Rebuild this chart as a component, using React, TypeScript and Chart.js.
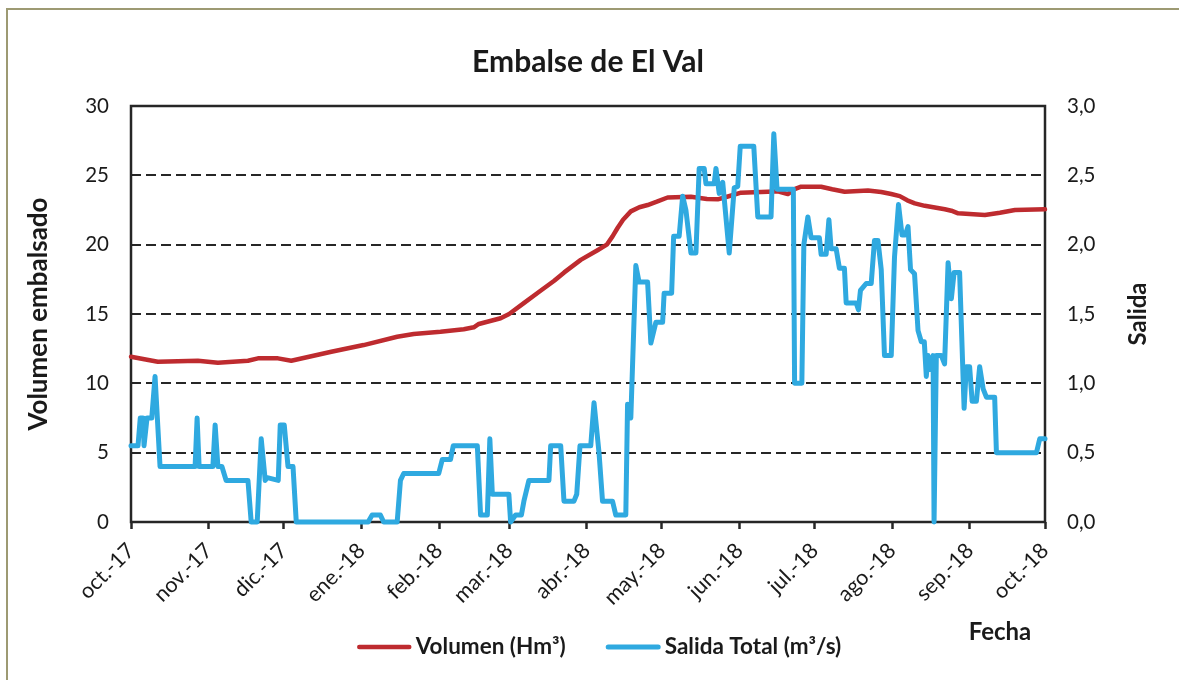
import React, { useEffect, useRef } from 'react';
import { Chart, registerables } from 'chart.js';

Chart.register(...registerables);

const FONT = 'Lato';
const TEXT = '#1a1a1a';
const AXIS = '#262626';
const RED = '#BE2B2F';
const BLUE = '#2FA9E0';

const monthDays = [0, 31, 61, 92, 123, 151, 182, 212, 243, 273, 304, 335, 365];
const monthLabels = ['oct.-17', 'nov.-17', 'dic.-17', 'ene.-18', 'feb.-18', 'mar.-18', 'abr.-18', 'may.-18', 'jun.-18', 'jul.-18', 'ago.-18', 'sep.-18', 'oct.-18'];

const volumenDays = [0, 10.7, 26.7, 34.7, 46.7, 50.7, 58.7, 64, 80, 92.9, 106.3, 112.9, 123.6, 132.9, 136.9, 138.9, 147.6, 151, 157, 163, 169, 173, 179.6, 186.3, 190, 192.3, 194.3, 196.5, 199.6, 203, 206.3, 210, 214.3, 223.6, 230, 234.3, 237, 243.6, 254.3, 258.3, 262.3, 265, 267.6, 275.6, 280, 285, 294.3, 299.6, 303.6, 307, 310, 313, 317, 325, 327.6, 330.3, 341, 347, 353, 365];
const volumenValues = [11.92, 11.56, 11.63, 11.49, 11.63, 11.8, 11.8, 11.63, 12.28, 12.76, 13.36, 13.56, 13.72, 13.9, 14.04, 14.28, 14.69, 15.0, 15.8, 16.6, 17.4, 18.0, 18.9, 19.6, 20.0, 20.6, 21.2, 21.8, 22.4, 22.7, 22.86, 23.1, 23.4, 23.46, 23.3, 23.27, 23.4, 23.75, 23.82, 23.85, 23.65, 24.0, 24.18, 24.18, 24.0, 23.82, 23.9, 23.8, 23.65, 23.5, 23.2, 22.98, 22.8, 22.55, 22.45, 22.26, 22.14, 22.3, 22.5, 22.55];

const salidaDays = [0, 2.8, 3.7, 4.8, 5.2, 6.4, 8.3, 9.6, 11.6, 25.6, 26.4, 27.2, 32.7, 33.6, 34.7, 36.3, 38, 46.7, 48, 50.4, 52, 53.6, 54.4, 58.8, 59.6, 61.2, 62.7, 64.7, 66, 94.7, 96.3, 99.6, 100.9, 106.3, 107.6, 108.9, 122.9, 124.3, 127.6, 128.7, 138.3, 139.6, 142.3, 143.3, 144.3, 150.9, 151.6, 153.6, 155.9, 156.9, 158.9, 166.9, 167.6, 171.6, 172.9, 176.9, 178, 179.3, 183.6, 184.9, 186.9, 188.3, 192.3, 193.6, 197.6, 198.3, 199.6, 201.6, 202.9, 206.3, 207.6, 209.6, 212.3, 212.9, 215.9, 216.7, 218.9, 220.3, 221.6, 223.6, 225.6, 226.9, 228.9, 229.6, 232.9, 233.6, 234.9, 236.3, 238.9, 240.9, 242.3, 243.3, 248.7, 250.3, 255.6, 256.7, 258, 264.5, 265, 267.9, 268.7, 270.3, 271.6, 274.9, 275.6, 277.6, 278.7, 279.6, 281.6, 282.9, 284.9, 285.6, 289.6, 290.5, 291.3, 293.6, 295.6, 296.9, 298.3, 299.6, 300.9, 303.6, 304.9, 306.5, 307.9, 309.2, 310.3, 311.3, 312.9, 314.3, 315.6, 316.8, 317.6, 318.3, 319.3, 320.3, 320.7, 321.6, 323.6, 324.9, 326.3, 327.6, 328.7, 330.9, 332.7, 333.6, 334.9, 335.9, 337.6, 338.9, 340.3, 341.6, 344.9, 345.6, 361.6, 362.9, 365];
const salidaValues = [0.55, 0.55, 0.75, 0.75, 0.55, 0.75, 0.75, 1.05, 0.4, 0.4, 0.75, 0.4, 0.4, 0.7, 0.4, 0.4, 0.3, 0.3, 0, 0, 0.6, 0.3, 0.32, 0.3, 0.7, 0.7, 0.4, 0.4, 0, 0, 0.05, 0.05, 0, 0, 0.3, 0.35, 0.35, 0.45, 0.45, 0.55, 0.55, 0.05, 0.05, 0.6, 0.2, 0.2, 0, 0.05, 0.05, 0.15, 0.3, 0.3, 0.55, 0.55, 0.15, 0.15, 0.2, 0.55, 0.55, 0.86, 0.5, 0.15, 0.15, 0.05, 0.05, 0.85, 0.75, 1.85, 1.73, 1.73, 1.29, 1.44, 1.44, 1.65, 1.65, 2.06, 2.06, 2.35, 2.25, 1.94, 1.94, 2.55, 2.55, 2.44, 2.44, 2.55, 2.37, 2.45, 1.94, 2.41, 2.42, 2.71, 2.71, 2.2, 2.2, 2.8, 2.4, 2.4, 1.0, 1.0, 2.0, 2.2, 2.05, 2.05, 1.93, 1.93, 2.18, 1.97, 1.97, 1.83, 1.83, 1.58, 1.58, 1.53, 1.67, 1.72, 1.72, 2.03, 2.03, 1.82, 1.2, 1.2, 1.91, 2.29, 2.07, 2.07, 2.13, 1.82, 1.79, 1.38, 1.3, 1.3, 1.05, 1.2, 1.1, 1.2, 0, 1.2, 1.2, 1.14, 1.87, 1.61, 1.8, 1.8, 0.82, 1.12, 1.12, 0.87, 0.87, 1.12, 0.96, 0.9, 0.9, 0.5, 0.5, 0.6, 0.6];

const decorPlugin = {
  id: 'decor',
  beforeDatasetsDraw(chart: any) {
    const { ctx, chartArea: a } = chart;
    ctx.save();
    ctx.strokeStyle = AXIS;
    ctx.lineWidth = 2.5;
    ctx.strokeRect(a.left, a.top, a.right - a.left, a.bottom - a.top);
    ctx.restore();
  },
  afterDraw(chart: any) {
    const { ctx, chartArea: a } = chart;
    ctx.save();
    ctx.fillStyle = TEXT;
    ctx.textAlign = 'center';
    ctx.textBaseline = 'middle';
    ctx.font = `bold 24px ${FONT}`;
    ctx.fillText('Fecha', a.right - 45, a.bottom + 110);

    // legend built from the datasets
    ctx.font = `bold 22.5px ${FONT}`;
    ctx.textAlign = 'left';
    const items = chart.data.datasets.map((ds: any) => ({
      text: ds.label,
      color: ds.borderColor,
      lw: ds.borderWidth,
      tw: ctx.measureText(ds.label).width,
    }));
    const lineLen = 55;
    const gapText = 4;
    const gapItem = 40;
    const total =
      items.reduce((s: number, it: any) => s + lineLen + gapText + it.tw, 0) + gapItem * (items.length - 1);
    let x = 599 - total / 2;
    const y = a.bottom + 125;
    items.forEach((it: any) => {
      ctx.strokeStyle = it.color;
      ctx.lineWidth = it.lw;
      ctx.lineCap = 'round';
      ctx.beginPath();
      ctx.moveTo(x + 2.5, y);
      ctx.lineTo(x + lineLen - 2.5, y);
      ctx.stroke();
      ctx.fillStyle = TEXT;
      ctx.fillText(it.text, x + lineLen + gapText, y);
      x += lineLen + gapText + it.tw + gapItem;
    });

    ctx.textAlign = 'center';
    ctx.font = `bold 24px ${FONT}`;
    ctx.translate(a.right + 93, (a.top + a.bottom) / 2);
    ctx.rotate(-Math.PI / 2);
    ctx.fillText('Salida', 0, 0);
    ctx.restore();
  },
};

export default function App() {
  const ref = useRef<HTMLCanvasElement>(null);

  useEffect(() => {
    const canvas = ref.current;
    if (!canvas) return;
    Chart.defaults.font.family = FONT;
    const chart = new Chart(canvas, {
      type: 'line',
      data: {
        datasets: [
          {
            label: 'Volumen (Hm³)',
            data: volumenDays.map((d, i) => ({ x: d, y: volumenValues[i] })),
            borderColor: RED,
            backgroundColor: RED,
            borderWidth: 4.5,
            pointRadius: 0,
            tension: 0,
            yAxisID: 'y',
            order: 1,
            borderCapStyle: 'round',
            borderJoinStyle: 'round',
            clip: 6,
          },
          {
            label: 'Salida Total (m³/s)',
            data: salidaDays.map((d, i) => ({ x: d, y: salidaValues[i] })),
            borderColor: BLUE,
            backgroundColor: BLUE,
            borderWidth: 5,
            pointRadius: 0,
            tension: 0,
            yAxisID: 'y1',
            order: 0,
            borderCapStyle: 'round',
            borderJoinStyle: 'round',
            clip: 6,
          },
        ],
      },
      options: {
        responsive: false,
        animation: false,
        devicePixelRatio: 1,
        layout: { padding: { left: 20, right: 0, top: 0, bottom: 48 } },
        scales: {
          x: {
            type: 'linear',
            min: 0,
            max: 365,
            afterBuildTicks: (s: any) => {
              s.ticks = monthDays.map((v) => ({ value: v }));
            },
            afterFit: (s: any) => {
              s.height = 110;
            },
            ticks: {
              autoSkip: false,
              maxRotation: 45,
              minRotation: 45,
              padding: 9,
              color: TEXT,
              font: { size: 21.5 },
              callback: (_v: any, i: number) => monthLabels[i],
            },
            grid: {
              drawOnChartArea: false,
              drawTicks: true,
              tickLength: 7,
              tickWidth: 2.5,
              tickColor: AXIS,
              color: AXIS,
            },
            border: { display: false },
          },
          y: {
            position: 'left',
            min: 0,
            max: 30,
            afterFit: (s: any) => {
              s.width = 111;
            },
            ticks: { stepSize: 5, padding: 22, color: TEXT, font: { size: 20.5 } },
            grid: {
              drawTicks: false,
              lineWidth: 2,
              color: (c: any) =>
                c.tick && (c.tick.value === 0 || c.tick.value === 30) ? 'rgba(0,0,0,0)' : AXIS,
            },
            border: { display: false, dash: [10, 5] },
            title: {
              display: true,
              text: 'Volumen embalsado',
              color: TEXT,
              font: { size: 26, weight: 'bold' },
              padding: { top: 3, bottom: 0 },
            },
          },
          y1: {
            position: 'right',
            min: 0,
            max: 3,
            afterFit: (s: any) => {
              s.width = 134;
            },
            ticks: {
              stepSize: 0.5,
              padding: 22,
              color: TEXT,
              font: { size: 20.5 },
              callback: (v: any) => Number(v).toFixed(1).replace('.', ','),
            },
            grid: { drawOnChartArea: false, drawTicks: false },
            border: { display: false },
          },
        },
        plugins: {
          title: {
            display: true,
            text: 'Embalse de El Val',
            fullSize: false,
            color: TEXT,
            font: { size: 30, weight: 'bold' },
            padding: { top: 44, bottom: 26 },
          },
          legend: { display: false },
          tooltip: { enabled: false },
        },
      } as any,
      plugins: [decorPlugin],
    });
    return () => chart.destroy();
  }, []);

  return (
    <div style={{ position: 'fixed', left: 0, top: 0, width: 1179, height: 680, overflow: 'hidden', background: '#fff' }}>
      <div
        style={{
          position: 'absolute',
          left: 6,
          top: 8,
          width: 1400,
          height: 900,
          borderLeft: '2px solid #9D9A73',
          borderTop: '2px solid #9D9A73',
        }}
      />
      <canvas ref={ref} width={1179} height={680} style={{ position: 'absolute', left: 0, top: 0, width: 1179, height: 680 }} />
    </div>
  );
}
